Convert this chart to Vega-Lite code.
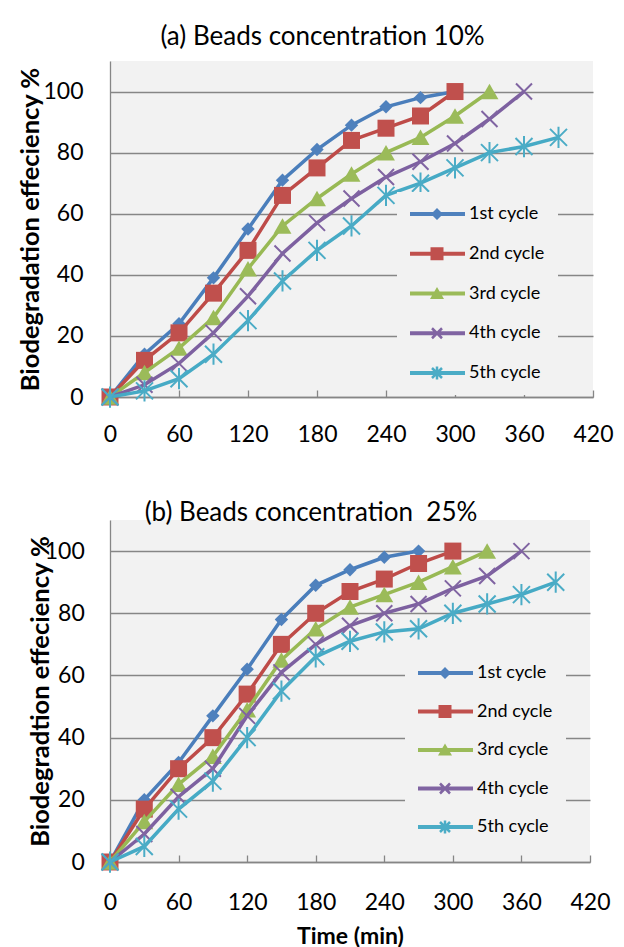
{
  "$schema": "https://vega.github.io/schema/vega-lite/v6.json",
  "background": "white",
  "padding": {"left": 18, "top": 24, "right": 0, "bottom": 0},
  "config": {
    "font": "Lato",
    "view": {"fill": "#f2f2f2", "stroke": null},
    "axis": {
      "domainColor": "#868686", "domainWidth": 1.3,
      "gridColor": "#868686", "gridWidth": 1.3,
      "tickColor": "#868686", "tickWidth": 1.3,
      "labelFont": "Lato", "labelFontSize": 23, "labelColor": "#000000", "labelFlush": false,
      "titleFont": "Lato", "titleFontSize": 25.5, "titleFontWeight": "bold", "titleColor": "#000000"
    },
    "legend": {
      "labelFont": "Lato", "labelFontSize": 18, "labelColor": "#000000",
      "symbolSize": 4, "symbolStrokeWidth": 0, "symbolOpacity": 1,
      "fillColor": "#f2f2f2", "padding": 13, "rowPadding": 21.75, "labelOffset": 41
    },
    "title": {"font": "Lato", "fontSize": 26, "fontWeight": "normal", "color": "#000000", "frame": "group", "baseline": "alphabetic"}
  },
  "datasets": {
    "a": [
      {"s":"1st cycle","t":0,"v":0},{"s":"1st cycle","t":30,"v":14},{"s":"1st cycle","t":60,"v":24},{"s":"1st cycle","t":90,"v":39},{"s":"1st cycle","t":120,"v":55},{"s":"1st cycle","t":150,"v":71},{"s":"1st cycle","t":180,"v":81},{"s":"1st cycle","t":210,"v":89},{"s":"1st cycle","t":240,"v":95},{"s":"1st cycle","t":270,"v":98},{"s":"1st cycle","t":300,"v":100},
      {"s":"2nd cycle","t":0,"v":0},{"s":"2nd cycle","t":30,"v":12},{"s":"2nd cycle","t":60,"v":21},{"s":"2nd cycle","t":90,"v":34},{"s":"2nd cycle","t":120,"v":48},{"s":"2nd cycle","t":150,"v":66},{"s":"2nd cycle","t":180,"v":75},{"s":"2nd cycle","t":210,"v":84},{"s":"2nd cycle","t":240,"v":88},{"s":"2nd cycle","t":270,"v":92},{"s":"2nd cycle","t":300,"v":100},
      {"s":"3rd cycle","t":0,"v":0},{"s":"3rd cycle","t":30,"v":8},{"s":"3rd cycle","t":60,"v":16},{"s":"3rd cycle","t":90,"v":26},{"s":"3rd cycle","t":120,"v":42},{"s":"3rd cycle","t":150,"v":56},{"s":"3rd cycle","t":180,"v":65},{"s":"3rd cycle","t":210,"v":73},{"s":"3rd cycle","t":240,"v":80},{"s":"3rd cycle","t":270,"v":85},{"s":"3rd cycle","t":300,"v":92},{"s":"3rd cycle","t":330,"v":100},
      {"s":"4th cycle","t":0,"v":0},{"s":"4th cycle","t":30,"v":4},{"s":"4th cycle","t":60,"v":11},{"s":"4th cycle","t":90,"v":21},{"s":"4th cycle","t":120,"v":33},{"s":"4th cycle","t":150,"v":47},{"s":"4th cycle","t":180,"v":57},{"s":"4th cycle","t":210,"v":65},{"s":"4th cycle","t":240,"v":72},{"s":"4th cycle","t":270,"v":77},{"s":"4th cycle","t":300,"v":83},{"s":"4th cycle","t":330,"v":91},{"s":"4th cycle","t":360,"v":100},
      {"s":"5th cycle","t":0,"v":0},{"s":"5th cycle","t":30,"v":2},{"s":"5th cycle","t":60,"v":6},{"s":"5th cycle","t":90,"v":14},{"s":"5th cycle","t":120,"v":25},{"s":"5th cycle","t":150,"v":38},{"s":"5th cycle","t":180,"v":48},{"s":"5th cycle","t":210,"v":56},{"s":"5th cycle","t":240,"v":66},{"s":"5th cycle","t":270,"v":70},{"s":"5th cycle","t":300,"v":75},{"s":"5th cycle","t":330,"v":80},{"s":"5th cycle","t":360,"v":82},{"s":"5th cycle","t":390,"v":85}
    ],
    "b": [
      {"s":"1st cycle","t":0,"v":0},{"s":"1st cycle","t":30,"v":20},{"s":"1st cycle","t":60,"v":32},{"s":"1st cycle","t":90,"v":47},{"s":"1st cycle","t":120,"v":62},{"s":"1st cycle","t":150,"v":78},{"s":"1st cycle","t":180,"v":89},{"s":"1st cycle","t":210,"v":94},{"s":"1st cycle","t":240,"v":98},{"s":"1st cycle","t":270,"v":100},
      {"s":"2nd cycle","t":0,"v":0},{"s":"2nd cycle","t":30,"v":17},{"s":"2nd cycle","t":60,"v":30},{"s":"2nd cycle","t":90,"v":40},{"s":"2nd cycle","t":120,"v":54},{"s":"2nd cycle","t":150,"v":70},{"s":"2nd cycle","t":180,"v":80},{"s":"2nd cycle","t":210,"v":87},{"s":"2nd cycle","t":240,"v":91},{"s":"2nd cycle","t":270,"v":96},{"s":"2nd cycle","t":300,"v":100},
      {"s":"3rd cycle","t":0,"v":0},{"s":"3rd cycle","t":30,"v":13},{"s":"3rd cycle","t":60,"v":25},{"s":"3rd cycle","t":90,"v":34},{"s":"3rd cycle","t":120,"v":49},{"s":"3rd cycle","t":150,"v":65},{"s":"3rd cycle","t":180,"v":75},{"s":"3rd cycle","t":210,"v":82},{"s":"3rd cycle","t":240,"v":86},{"s":"3rd cycle","t":270,"v":90},{"s":"3rd cycle","t":300,"v":95},{"s":"3rd cycle","t":330,"v":100},
      {"s":"4th cycle","t":0,"v":0},{"s":"4th cycle","t":30,"v":9},{"s":"4th cycle","t":60,"v":21},{"s":"4th cycle","t":90,"v":30},{"s":"4th cycle","t":120,"v":47},{"s":"4th cycle","t":150,"v":61},{"s":"4th cycle","t":180,"v":70},{"s":"4th cycle","t":210,"v":76},{"s":"4th cycle","t":240,"v":80},{"s":"4th cycle","t":270,"v":83},{"s":"4th cycle","t":300,"v":88},{"s":"4th cycle","t":330,"v":92},{"s":"4th cycle","t":360,"v":100},
      {"s":"5th cycle","t":0,"v":0},{"s":"5th cycle","t":30,"v":5},{"s":"5th cycle","t":60,"v":17},{"s":"5th cycle","t":90,"v":26},{"s":"5th cycle","t":120,"v":40},{"s":"5th cycle","t":150,"v":55},{"s":"5th cycle","t":180,"v":66},{"s":"5th cycle","t":210,"v":71},{"s":"5th cycle","t":240,"v":74},{"s":"5th cycle","t":270,"v":75},{"s":"5th cycle","t":300,"v":80},{"s":"5th cycle","t":330,"v":83},{"s":"5th cycle","t":360,"v":86},{"s":"5th cycle","t":390,"v":90}
    ]
  },
  "columns": 1,
  "align": "none",
  "spacing": 54,
  "resolve": {"scale": {"color": "independent", "shape": "independent"}, "legend": {"color": "independent", "shape": "independent"}},
  "concat": [
    {
      "title": {"text": "(a) Beads concentration 10%", "dx": -29, "offset": 11},
      "width": 483,
      "height": 336,
      "data": {"name": "a"},
      "encoding": {
        "x": {"field": "t", "type": "quantitative", "scale": {"domain": [0, 420], "nice": false},
              "axis": {"values": [0, 60, 120, 180, 240, 300, 360, 420], "grid": false, "tickSize": -7, "labelPadding": 33, "title": null}},
        "y": {"field": "v", "type": "quantitative", "scale": {"domain": [0, 110], "nice": false},
              "axis": {"values": [0, 20, 40, 60, 80, 100], "grid": true, "ticks": false, "labelPadding": 27, "title": "Biodegradation effeciency %", "titlePadding": -0.5}}
      },
      "layer": [
        {
          "mark": {"type": "point", "filled": true, "opacity": 0},
          "encoding": {
            "color": {"field": "s", "type": "nominal",
              "scale": {"domain": ["1st cycle", "2nd cycle", "3rd cycle", "4th cycle", "5th cycle"], "range": ["#4f81bd", "#c0504d", "#9bbb59", "#8064a2", "#4bacc6"]},
              "legend": {"title": null, "orient": "none", "legendX": 287, "legendY": 131}},
            "shape": {"field": "s", "type": "nominal",
              "scale": {"domain": ["1st cycle", "2nd cycle", "3rd cycle", "4th cycle", "5th cycle"],
                "range": [
                  "M-9,-2H46V2H-9ZM12,0L18,-6L24,0L18,6Z",
                  "M-9,-2H46V2H-9ZM11.5,-6.5H24.5V6.5H11.5Z",
                  "M-9,-2H46V2H-9ZM18,-6.5L25,5.5H11Z",
                  "M-9,-2H46V2H-9ZM13.88,-5.88L23.88,4.12L22.12,5.88L12.12,-4.12ZM23.88,-4.12L13.88,5.88L12.12,4.12L22.12,-5.88Z",
                  "M-9,-2H46V2H-9ZM13.88,-5.88L23.88,4.12L22.12,5.88L12.12,-4.12ZM23.88,-4.12L13.88,5.88L12.12,4.12L22.12,-5.88ZM16.75,-6.5H19.25V6.5H16.75Z"
                ]},
              "legend": {"title": null, "orient": "none", "legendX": 287, "legendY": 131}}
          }
        },
        {"transform": [{"filter": "datum.s === '1st cycle'"}], "mark": {"type": "line", "color": "#4a7ebb", "strokeWidth": 3.5}},
        {"transform": [{"filter": "datum.s === '1st cycle'"}], "mark": {"type": "point", "shape": "diamond", "filled": true, "opacity": 1, "color": "#4f81bd", "size": 180}},
        {"transform": [{"filter": "datum.s === '2nd cycle'"}], "mark": {"type": "line", "color": "#be4b48", "strokeWidth": 3.5}},
        {"transform": [{"filter": "datum.s === '2nd cycle'"}], "mark": {"type": "point", "shape": "square", "filled": true, "opacity": 1, "color": "#c0504d", "size": 289}},
        {"transform": [{"filter": "datum.s === '3rd cycle'"}], "mark": {"type": "line", "color": "#98b954", "strokeWidth": 3.5}},
        {"transform": [{"filter": "datum.s === '3rd cycle'"}], "mark": {"type": "point", "shape": "triangle-up", "filled": true, "opacity": 1, "color": "#9bbb59", "size": 320}},
        {"transform": [{"filter": "datum.s === '4th cycle'"}], "mark": {"type": "line", "color": "#7d60a0", "strokeWidth": 3.5}},
        {"transform": [{"filter": "datum.s === '4th cycle'"}], "mark": {"type": "point", "shape": "M-1,-1L1,1M-1,1L1,-1", "filled": false, "opacity": 1, "color": "#8064a2", "strokeWidth": 2, "size": 256}},
        {"transform": [{"filter": "datum.s === '5th cycle'"}], "mark": {"type": "line", "color": "#46aac5", "strokeWidth": 3.5}},
        {"transform": [{"filter": "datum.s === '5th cycle'"}], "mark": {"type": "point", "shape": "M-1,-1L1,1M-1,1L1,-1M0,-1.25L0,1.25", "filled": false, "opacity": 1, "color": "#4bacc6", "strokeWidth": 2, "size": 289}}
      ]
    },
    {
      "title": {"text": "(b) Beads concentration\u00a0 25%", "dx": -39, "offset": -6},
      "width": 480,
      "height": 342,
      "data": {"name": "b"},
      "encoding": {
        "x": {"field": "t", "type": "quantitative", "scale": {"domain": [0, 420], "nice": false},
              "axis": {"values": [0, 60, 120, 180, 240, 300, 360, 420], "grid": false, "tickSize": -7, "labelPadding": 36, "title": "Time (min)", "titlePadding": 11, "titleFontSize": 23}},
        "y": {"field": "v", "type": "quantitative", "scale": {"domain": [0, 110], "nice": false},
              "axis": {"values": [0, 20, 40, 60, 80, 100], "grid": true, "ticks": false, "labelPadding": 25.7, "title": "Biodegradtion effeciency %", "titlePadding": -9.5}}
      },
      "layer": [
        {
          "mark": {"type": "point", "filled": true, "opacity": 0},
          "encoding": {
            "color": {"field": "s", "type": "nominal",
              "scale": {"domain": ["1st cycle", "2nd cycle", "3rd cycle", "4th cycle", "5th cycle"], "range": ["#4f81bd", "#c0504d", "#9bbb59", "#8064a2", "#4bacc6"]},
              "legend": {"title": null, "orient": "none", "legendX": 295, "legendY": 131, "rowPadding": 20.5}},
            "shape": {"field": "s", "type": "nominal",
              "scale": {"domain": ["1st cycle", "2nd cycle", "3rd cycle", "4th cycle", "5th cycle"],
                "range": [
                  "M-9,-2H46V2H-9ZM12,0L18,-6L24,0L18,6Z",
                  "M-9,-2H46V2H-9ZM11.5,-6.5H24.5V6.5H11.5Z",
                  "M-9,-2H46V2H-9ZM18,-6.5L25,5.5H11Z",
                  "M-9,-2H46V2H-9ZM13.88,-5.88L23.88,4.12L22.12,5.88L12.12,-4.12ZM23.88,-4.12L13.88,5.88L12.12,4.12L22.12,-5.88Z",
                  "M-9,-2H46V2H-9ZM13.88,-5.88L23.88,4.12L22.12,5.88L12.12,-4.12ZM23.88,-4.12L13.88,5.88L12.12,4.12L22.12,-5.88ZM16.75,-6.5H19.25V6.5H16.75Z"
                ]},
              "legend": {"title": null, "orient": "none", "legendX": 295, "legendY": 131, "rowPadding": 20.5}}
          }
        },
        {"transform": [{"filter": "datum.s === '1st cycle'"}], "mark": {"type": "line", "color": "#4a7ebb", "strokeWidth": 3.5}},
        {"transform": [{"filter": "datum.s === '1st cycle'"}], "mark": {"type": "point", "shape": "diamond", "filled": true, "opacity": 1, "color": "#4f81bd", "size": 180}},
        {"transform": [{"filter": "datum.s === '2nd cycle'"}], "mark": {"type": "line", "color": "#be4b48", "strokeWidth": 3.5}},
        {"transform": [{"filter": "datum.s === '2nd cycle'"}], "mark": {"type": "point", "shape": "square", "filled": true, "opacity": 1, "color": "#c0504d", "size": 289}},
        {"transform": [{"filter": "datum.s === '3rd cycle'"}], "mark": {"type": "line", "color": "#98b954", "strokeWidth": 3.5}},
        {"transform": [{"filter": "datum.s === '3rd cycle'"}], "mark": {"type": "point", "shape": "triangle-up", "filled": true, "opacity": 1, "color": "#9bbb59", "size": 320}},
        {"transform": [{"filter": "datum.s === '4th cycle'"}], "mark": {"type": "line", "color": "#7d60a0", "strokeWidth": 3.5}},
        {"transform": [{"filter": "datum.s === '4th cycle'"}], "mark": {"type": "point", "shape": "M-1,-1L1,1M-1,1L1,-1", "filled": false, "opacity": 1, "color": "#8064a2", "strokeWidth": 2, "size": 256}},
        {"transform": [{"filter": "datum.s === '5th cycle'"}], "mark": {"type": "line", "color": "#46aac5", "strokeWidth": 3.5}},
        {"transform": [{"filter": "datum.s === '5th cycle'"}], "mark": {"type": "point", "shape": "M-1,-1L1,1M-1,1L1,-1M0,-1.25L0,1.25", "filled": false, "opacity": 1, "color": "#4bacc6", "strokeWidth": 2, "size": 289}}
      ]
    }
  ]
}
